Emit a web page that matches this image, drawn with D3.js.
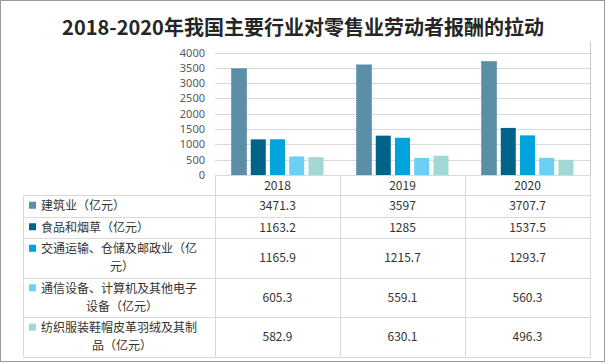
<!DOCTYPE html>
<html>
<head>
<meta charset="utf-8">
<script src="https://cdn.jsdelivr.net/npm/d3@7"></script>
<style>
  body { margin: 0; background: #fff; }
  text { font-family: "Noto Sans CJK SC", "Noto Sans", sans-serif; }
</style>
</head>
<body>
<svg id="chart" width="606" height="363"></svg>
<script>
const width = 606;
const height = 363;

// data
const years = ["2018", "2019", "2020"];
const seriesNames = [
  "建筑业（亿元）",
  "食品和烟草（亿元）",
  "交通运输、仓储及邮政业（亿元）",
  "通信设备、计算机及其他电子设备（亿元）",
  "纺织服装鞋帽皮革羽绒及其制品（亿元）",
];
const construction = [3471.3, 3597, 3707.7];
const foodTobacco = [1163.2, 1285, 1537.5];
const transport = [1165.9, 1215.7, 1293.7];
const electronics = [605.3, 559.1, 560.3];
const textiles = [582.9, 630.1, 496.3];
const yTicks = [0, 500, 1000, 1500, 2000, 2500, 3000, 3500, 4000];

const seriesValues = [construction, foodTobacco, transport, electronics, textiles];
const colors = ["#5b8fa8", "#006489", "#00a4dc", "#6bcff6", "#a1d8d5"];

const svg = d3.select("#chart");

// outer border
svg.append("rect")
  .attr("x", 0.5).attr("y", 0.5)
  .attr("width", width - 2).attr("height", height - 2)
  .attr("fill", "none")
  .attr("stroke", "#9a9a9a");

// title
svg.append("text")
  .attr("x", 303)
  .attr("y", 35)
  .attr("text-anchor", "middle")
  .attr("font-size", 20)
  .attr("font-weight", "bold")
  .attr("fill", "#262626")
  .text("2018-2020年我国主要行业对零售业劳动者报酬的拉动");

// scales
const plotLeft = 215;
const plotRight = 590;
const x = d3.scaleBand().domain(years).range([plotLeft, plotRight]);
const xInner = d3.scaleBand()
  .domain(d3.range(seriesNames.length))
  .range([0, x.bandwidth()])
  .paddingInner(0.22)
  .paddingOuter(0.86);
const y = d3.scaleLinear().domain([0, 4000]).range([175, 52.5]);

// gridlines and y labels
svg.append("g")
  .selectAll("line")
  .data(yTicks.slice(1))
  .join("line")
  .attr("x1", plotLeft)
  .attr("x2", plotRight)
  .attr("y1", (d) => Math.round(y(d)) + 0.5)
  .attr("y2", (d) => Math.round(y(d)) + 0.5)
  .attr("stroke", "#d9d9d9");

svg.append("g")
  .selectAll("text")
  .data(yTicks)
  .join("text")
  .attr("x", 205)
  .attr("y", (d) => y(d) + 4)
  .attr("text-anchor", "end")
  .attr("font-size", 11)
  .attr("fill", "#595959")
  .style("font-family", "'Noto Sans', sans-serif")
  .text((d) => d);

// right edge line of plot
svg.append("line")
  .attr("x1", plotRight + 0.5).attr("x2", plotRight + 0.5)
  .attr("y1", 42).attr("y2", 175)
  .attr("stroke", "#c8c8c8");

// bars
seriesValues.forEach((vals, si) => {
  svg.append("g")
    .selectAll("rect")
    .data(vals)
    .join("rect")
    .attr("x", (d, i) => x(years[i]) + xInner(si))
    .attr("y", (d) => y(d))
    .attr("width", xInner.bandwidth())
    .attr("height", (d) => y(0) - y(d))
    .attr("fill", colors[si])
    .attr("stroke", si === 0 ? "#4a7d96" : "none")
    .attr("stroke-dasharray", si === 0 ? "1,1" : null);
});

// data table
const tableLeft = 23;
const headerTop = 175;
const headerBottom = 195;
const lineGap = 18;
const fontSize = 12;
const maxLabelWidth = 162;
const gridColor = "#d9d9d9";

const table = svg.append("g");

// wrap label text into lines by measuring
function wrapLabel(label) {
  const probe = svg.append("text").attr("font-size", fontSize);
  const lines = [];
  let cur = "";
  for (const ch of label) {
    probe.text(cur + ch);
    if (probe.node().getComputedTextLength() > maxLabelWidth && cur) {
      lines.push(cur);
      cur = ch;
    } else {
      cur += ch;
    }
  }
  lines.push(cur);
  probe.remove();
  return lines;
}

const rows = seriesNames.map((name, i) => ({ name, lines: wrapLabel(name), i }));
let yPos = headerBottom;
rows.forEach((r) => {
  r.top = yPos;
  r.height = r.lines.length === 1 ? 21.5 : 39.5;
  yPos += r.height;
});
const tableBottom = yPos;

// header year labels
table.selectAll(".year")
  .data(years)
  .join("text")
  .attr("x", (d) => x(d) + x.bandwidth() / 2)
  .attr("y", 190)
  .attr("text-anchor", "middle")
  .attr("font-size", fontSize)
  .attr("fill", "#333")
  .text((d) => d);

// vertical lines
const vLines = [plotLeft].concat(years.map((d) => x(d) + x.bandwidth()));
table.selectAll(".vline")
  .data(vLines)
  .join("line")
  .attr("x1", (d) => Math.round(d) + 0.5)
  .attr("x2", (d) => Math.round(d) + 0.5)
  .attr("y1", headerTop)
  .attr("y2", tableBottom)
  .attr("stroke", gridColor);

table.append("line")
  .attr("x1", tableLeft + 0.5).attr("x2", tableLeft + 0.5)
  .attr("y1", headerBottom).attr("y2", tableBottom)
  .attr("stroke", gridColor);

// horizontal lines
table.append("line")
  .attr("x1", plotLeft).attr("x2", plotRight + 1)
  .attr("y1", headerTop + 0.5).attr("y2", headerTop + 0.5)
  .attr("stroke", gridColor);

const hLines = rows.map((r) => r.top).concat([tableBottom]);
table.selectAll(".hline")
  .data(hLines)
  .join("line")
  .attr("x1", tableLeft)
  .attr("x2", plotRight + 1)
  .attr("y1", (d) => Math.round(d) + 0.5)
  .attr("y2", (d) => Math.round(d) + 0.5)
  .attr("stroke", gridColor);

// row labels, keys and values
rows.forEach((r) => {
  const n = r.lines.length;
  const firstY = r.top + r.height / 2 - ((n - 1) * lineGap) / 2;
  table.append("rect")
    .attr("x", 29)
    .attr("y", firstY - 4)
    .attr("width", 7)
    .attr("height", 7)
    .attr("fill", colors[r.i]);
  r.lines.forEach((ln, li) => {
    table.append("text")
      .attr("x", li === 0 ? 41 : 122)
      .attr("y", firstY + li * lineGap + 4.5)
      .attr("text-anchor", li === 0 ? "start" : "middle")
      .attr("font-size", fontSize)
      .attr("fill", "#333")
      .text(ln);
  });
  table.append("g")
    .selectAll("text")
    .data(seriesValues[r.i])
    .join("text")
    .attr("x", (d, i) => x(years[i]) + x.bandwidth() / 2)
    .attr("y", r.top + r.height / 2 + 4.5)
    .attr("text-anchor", "middle")
    .attr("font-size", fontSize)
    .attr("fill", "#333")
    .text((d) => d);
});
</script>
</body>
</html>
